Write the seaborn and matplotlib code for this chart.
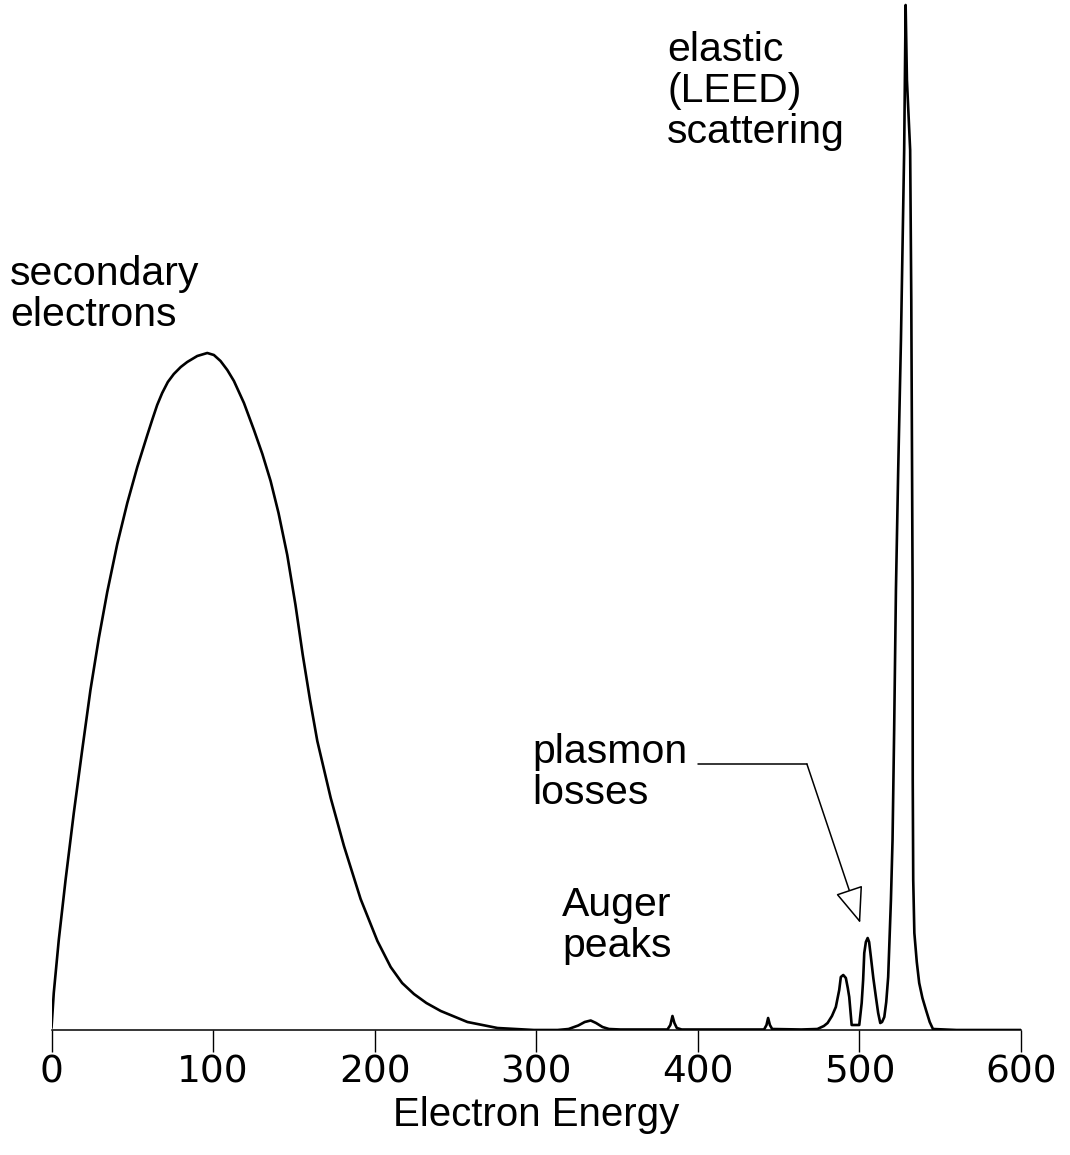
import numpy as np
import pandas as pd
import matplotlib
matplotlib.use("Agg")
import matplotlib.pyplot as plt
import seaborn as sns

# ---- data (energy in eV, intensity in arbitrary units) ----
energy = [
    0.0, 1.4, 4.5, 8.7, 13.8, 19.0, 24.1, 29.3, 34.5, 40.7, 46.9, 53.1, 59.3,
    62.5, 65.4, 68.5, 72.0, 75.7, 80.0, 84.0, 90.2, 96.4, 100.5, 104.6, 108.8,
    112.9, 119.1, 125.3, 130.5, 135.6, 140.5, 145.9, 151.0, 155.5, 160.0,
    164.5, 172.8, 181.0, 191.3, 201.7, 209.9, 217.0, 224.3, 232.0, 240.9,
    257.4, 276.0, 298.5,
    313.2, 320.0, 326.0, 330.0, 333.7, 337.0, 341.0, 345.0, 352.0,
    381.2, 383.0, 384.3, 385.5, 387.0, 390.0,
    441.0, 442.5, 443.5, 444.6, 446.0, 464.0,
    474.0, 478.0, 480.3, 483.0, 485.4, 487.5, 488.5, 490.0, 491.6, 492.8,
    493.7, 494.5, 495.2, 499.9, 501.4, 502.3, 503.0, 504.0, 505.1, 506.0,
    507.1, 508.6, 510.2, 511.6, 512.9, 514.0, 515.4, 516.6, 517.8, 519.5,
    520.5, 521.5, 522.6, 524.0, 525.7, 527.7, 528.6, 529.4, 531.4, 532.1,
    532.9, 533.0, 533.3, 534.0, 535.5, 537.0, 539.0, 541.2, 543.5, 545.5,
    560.0, 600.0,
]
intensity = [
    2, 37, 90, 150, 217, 280, 340, 392, 438, 486, 527, 563, 595,
    611, 625, 637, 648, 656, 663, 668, 674, 677, 675, 669, 660,
    649, 627, 600, 576, 549, 517, 475, 425, 375, 330,
    289, 232, 184, 131, 89, 63, 47, 36, 27, 19,
    8, 2, 0,
    0, 1, 4.5, 8, 9.5, 7, 3, 1, 0.5,
    0.5, 5, 14, 7, 2, 0.5,
    0.5, 5, 12, 5, 1, 0.5,
    1, 4, 7, 14, 23, 40, 53, 55, 52, 42,
    33, 18, 5, 5, 27, 50, 77, 88, 92, 88,
    73, 52, 33, 17, 7, 8, 13, 28, 53, 130,
    190, 300, 440, 560, 690, 880, 1025, 950, 880, 730,
    447, 250, 150, 97, 68, 47, 32, 20, 8, 1,
    0, 0,
]
x_ticks = [0, 100, 200, 300, 400, 500, 600]
x_label = "Electron Energy"

W, H, DPI = 1070, 1155, 100
df = pd.DataFrame({"energy": energy, "intensity": intensity})

sns.set_theme(style="white")
plt.rcParams["font.family"] = ["DejaVu Sans"]

fig = plt.figure(figsize=(W / DPI, H / DPI), dpi=DPI)
x0_px, x600_px, base_px = 51.5, 1021.0, 1030.0
ax = fig.add_axes([x0_px / W, (H - base_px) / H, (x600_px - x0_px) / W, base_px / H])

sns.lineplot(data=df, x="energy", y="intensity", ax=ax, color="black",
             linewidth=1.9, estimator=None, sort=False)

ax.set_xlim(0, 600)
ax.set_ylim(0, 1030)
for s in ["left", "right", "top"]:
    ax.spines[s].set_visible(False)
ax.spines["bottom"].set_color("black")
ax.spines["bottom"].set_linewidth(1.1)
ax.set_yticks([])
ax.set_ylabel("")
ax.set_xticks(x_ticks)
ax.set_xticklabels([str(t) for t in x_ticks])
ax.tick_params(axis="x", direction="out", length=16, width=1.0, color="black",
               pad=1.5, labelsize=27, labelcolor="black", bottom=True)
ax.set_xlabel(x_label, fontsize=29, family=["Liberation Sans", "DejaVu Sans"],
              labelpad=4, color="black")
ax.patch.set_alpha(0)

lab_font = dict(fontsize=29.5, family=["Liberation Sans", "DejaVu Sans"],
                color="black", va="top", ha="left", linespacing=1.1)

def ftext(px, py, s):
    fig.text(px / W, 1 - py / H, s, **lab_font)

ftext(667, 31, "elastic\n(LEED)\nscattering")
ftext(10, 255, "secondary\nelectrons")
ftext(532, 733, "plasmon\nlosses")
ftext(562, 886, "Auger\npeaks")

# plasmon-loss pointer: horizontal leader then open-head arrow
ax.plot([400.0, 467.5], [266, 266], color="black", linewidth=1.1)
ax.annotate("", xy=(500.5, 107), xytext=(467.5, 266),
            arrowprops=dict(arrowstyle="-|>,head_length=1.15,head_width=0.45",
                            mutation_scale=20, fc="white", ec="black",
                            lw=1.1, shrinkA=0, shrinkB=0))

fig.savefig("out.png", dpi=DPI, facecolor="white")
